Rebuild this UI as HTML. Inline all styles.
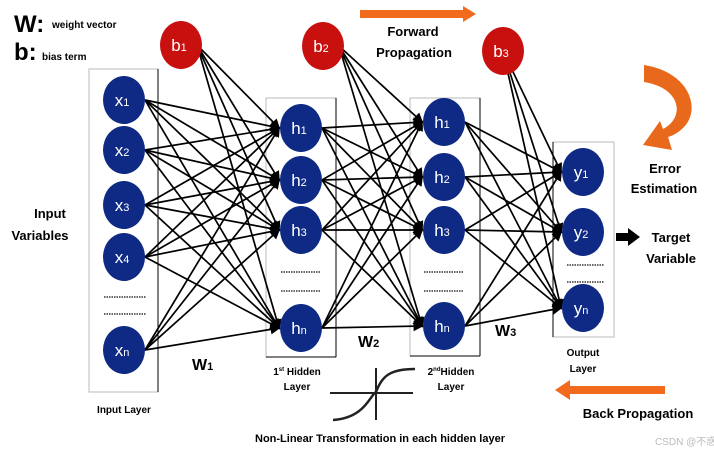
<!DOCTYPE html>
<html><head><meta charset="utf-8"><style>
html,body{margin:0;padding:0;background:#fff;}
svg{display:block;font-family:"Liberation Sans",sans-serif;}
</style></head><body>
<svg id="s" width="714" height="455" viewBox="0 0 714 455" xmlns="http://www.w3.org/2000/svg">
<defs><marker id="ah" markerWidth="6" markerHeight="6" refX="5" refY="3" orient="auto" markerUnits="strokeWidth"><path d="M0,0 L6,3 L0,6 z" fill="#000"/></marker></defs>
<g fill="none" stroke="#bbb" stroke-width="1">
<rect x="89" y="69" width="69" height="323"/>
<rect x="266" y="98" width="70" height="259"/>
<rect x="410" y="98" width="70" height="258"/>
<rect x="553" y="142" width="61" height="195"/>
</g>
<g stroke="#000" stroke-width="1"><line x1="158" y1="69" x2="158" y2="392"/><line x1="336" y1="98" x2="336" y2="357"/><line x1="480" y1="98" x2="480" y2="356"/><line x1="553" y1="142" x2="553" y2="337"/>
<line x1="266" y1="357" x2="336" y2="357"/><line x1="410" y1="356" x2="480" y2="356"/></g>
<g id="lines" stroke="#000" stroke-width="1.7" fill="none"></g>
<g id="nodes"></g>
<g stroke="#333" stroke-width="1.5" stroke-dasharray="1.5,1">
<line x1="104" y1="297" x2="146" y2="297"/><line x1="104" y1="314" x2="146" y2="314"/>
<line x1="281" y1="272" x2="321" y2="272"/><line x1="281" y1="291" x2="321" y2="291"/>
<line x1="424" y1="272" x2="464" y2="272"/><line x1="424" y1="291" x2="464" y2="291"/>
<line x1="567" y1="265" x2="604" y2="265"/><line x1="567" y1="282" x2="604" y2="282"/>
</g>
<text x="14" y="32" font-size="24" font-weight="bold">W:</text><text x="52" y="28" font-size="10" font-weight="bold">weight vector</text>
<text x="14" y="60" font-size="24" font-weight="bold">b:</text><text x="42" y="60" font-size="10" font-weight="bold">bias term</text>
<text x="50" y="218" font-size="13" font-weight="bold" text-anchor="middle">Input</text>
<text x="40" y="240" font-size="13" font-weight="bold" text-anchor="middle">Variables</text>
<text x="124" y="413" font-size="10" font-weight="bold" text-anchor="middle">Input Layer</text>
<text x="192" y="370" font-size="16" font-weight="bold">W<tspan font-size="11">1</tspan></text>
<text x="358" y="347" font-size="16" font-weight="bold">W<tspan font-size="11">2</tspan></text>
<text x="495" y="336" font-size="16" font-weight="bold">W<tspan font-size="11">3</tspan></text>
<text x="297" y="375" font-size="10" font-weight="bold" text-anchor="middle">1<tspan font-size="6" dy="-4">st</tspan><tspan dy="4"> Hidden</tspan></text>
<text x="297" y="390" font-size="10" font-weight="bold" text-anchor="middle">Layer</text>
<text x="451" y="375" font-size="10" font-weight="bold" text-anchor="middle">2<tspan font-size="6" dy="-4">nd</tspan><tspan dy="4">Hidden</tspan></text>
<text x="451" y="390" font-size="10" font-weight="bold" text-anchor="middle">Layer</text>
<text x="583" y="356" font-size="10" font-weight="bold" text-anchor="middle">Output</text>
<text x="583" y="372" font-size="10" font-weight="bold" text-anchor="middle">Layer</text>
<text x="413" y="36" font-size="13" font-weight="bold" text-anchor="middle">Forward</text>
<text x="414" y="57" font-size="13" font-weight="bold" text-anchor="middle">Propagation</text>
<text x="665" y="173" font-size="13" font-weight="bold" text-anchor="middle">Error</text>
<text x="664" y="193" font-size="13" font-weight="bold" text-anchor="middle">Estimation</text>
<text x="671" y="242" font-size="13" font-weight="bold" text-anchor="middle">Target</text>
<text x="671" y="263" font-size="13" font-weight="bold" text-anchor="middle">Variable</text>
<text x="638" y="418" font-size="13" font-weight="bold" text-anchor="middle">Back Propagation</text>
<text x="380" y="442" font-size="11" font-weight="bold" text-anchor="middle">Non-Linear Transformation in each hidden layer</text>
<text x="655" y="445" font-size="10" fill="#bbb">CSDN @不惑_</text>
<path d="M360,10 L463,10 L463,6 L476,14 L463,22 L463,18 L360,18 z" fill="#f26b1d"/>
<path d="M665,386 L570,386 L570,380 L555,390 L570,400 L570,394 L665,394 z" fill="#f26b1d"/>
<path d="M616,233 L628,233 L628,228 L640,237 L628,246 L628,241 L616,241 z" fill="#000"/>
<path d="M644,65 C690,72 702,110 683,128 C678,133 672,136 668,137 L672,150 L643,145 L660,121 L663,129 C685,118 682,88 644,82 z" fill="#e8681c"/>
<g stroke="#222" fill="none"><line x1="330" y1="393" x2="413" y2="393" stroke-width="2"/><line x1="376" y1="368" x2="376" y2="420" stroke-width="2"/><path d="M333,420 C365,418 370,395 376,392 C382,376 390,369 415,369" stroke-width="2.5"/></g>
<script>
var ns="http://www.w3.org/2000/svg";
var X=[[124,100],[124,150],[124,205],[124,257],[124,350]];
var H1=[[301,128],[301,180],[301,230],[301,328]];
var H2=[[444,122],[444,177],[444,230],[444,326]];
var Y=[[583,172],[583,232],[583,308]];
var B=[[181,45],[323,46],[503,51]];
var L=document.getElementById("lines"),N=document.getElementById("nodes");
function ln(a,b,dx1,dx2){var l=document.createElementNS(ns,"line");l.setAttribute("x1",a[0]+dx1);l.setAttribute("y1",a[1]);l.setAttribute("x2",b[0]-dx2);l.setAttribute("y2",b[1]);l.setAttribute("marker-end","url(#ah)");L.appendChild(l);}
function full(A,Bs){A.forEach(function(a){Bs.forEach(function(b){ln(a,b,21,22);});});}
full(X,H1);full(H1,H2);full(H2,Y);
H1.forEach(function(b){ln(B[0],b,16,22);});
H2.forEach(function(b){ln(B[1],b,16,22);});
Y.forEach(function(b){ln(B[2],b,0,22);});
function node(p,c,t,s){var e=document.createElementNS(ns,"ellipse");e.setAttribute("cx",p[0]);e.setAttribute("cy",p[1]);e.setAttribute("rx",21);e.setAttribute("ry",24);e.setAttribute("fill",c);N.appendChild(e);
var tx=document.createElementNS(ns,"text");tx.setAttribute("x",p[0]-2);tx.setAttribute("y",p[1]+6);tx.setAttribute("text-anchor","middle");tx.setAttribute("fill","#fff");tx.setAttribute("font-size","17");
tx.appendChild(document.createTextNode(t));var sp=document.createElementNS(ns,"tspan");sp.setAttribute("font-size","11");sp.textContent=s;tx.appendChild(sp);N.appendChild(tx);}
var xs=["1","2","3","4","n"];X.forEach(function(p,i){node(p,"#0f2a84","x",xs[i]);});
var hs=["1","2","3","n"];H1.forEach(function(p,i){node(p,"#0f2a84","h",hs[i]);});H2.forEach(function(p,i){node(p,"#0f2a84","h",hs[i]);});
var ys=["1","2","n"];Y.forEach(function(p,i){node(p,"#0f2a84","y",ys[i]);});
B.forEach(function(p,i){node(p,"#c8100f","b",String(i+1));});
</script>
</svg>
</body></html>
